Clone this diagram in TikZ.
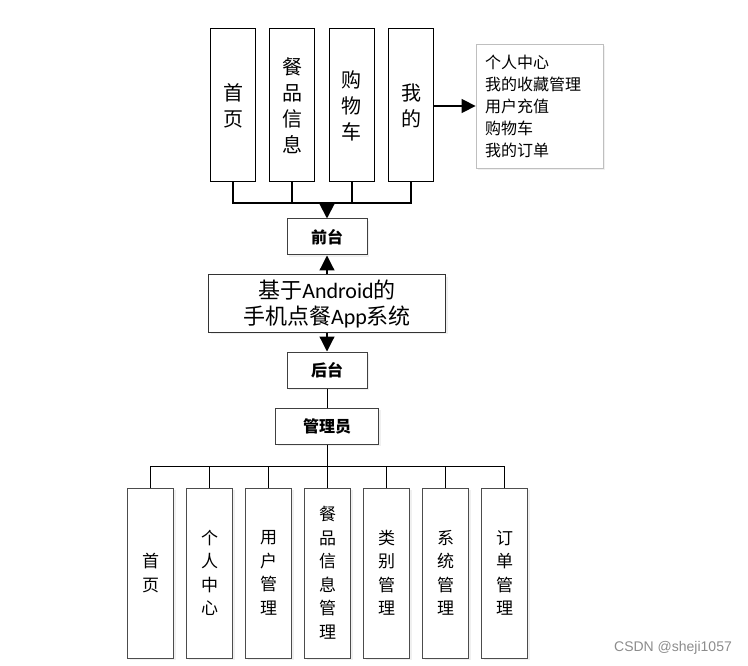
\documentclass[tikz,border=0pt]{standalone}
\usepackage{fontspec}
\setmainfont{Noto Sans CJK SC}
\newfontfamily\latinfont{Carlito}
\newfontfamily\markfont{Liberation Sans}
\usetikzlibrary{arrows.meta,shadows}

\tikzset{
  softshadow/.style={drop shadow={opacity=0.12, shadow xshift=2pt, shadow yshift=-2pt}},
  topbox/.style={draw, line width=1pt, minimum width=45pt, minimum height=153pt,
    inner sep=0pt, align=center, font=\fontsize{20}{26}\selectfont},
  midbox/.style={draw=black!75, line width=1pt, fill=white, softshadow, inner sep=0pt,
    align=center, font=\fontsize{16}{20}\selectfont\bfseries},
  subbox/.style={draw=black!70, line width=1pt, fill=white, softshadow, minimum width=46pt,
    minimum height=170pt, inner sep=0pt, align=center, font=\fontsize{17}{23.5}\selectfont},
  listbox/.style={draw=black!25, line width=0.8pt, fill=white, softshadow, minimum width=127pt,
    minimum height=124pt, text width=109pt, inner xsep=9pt, align=left,
    font=\fontsize{16}{22}\selectfont},
  bigarrow/.style={-{Triangle[width=15pt,length=15pt]}},
  busline/.style={line width=2pt},
}

\begin{document}
\begin{tikzpicture}[x=1pt, y=-1pt]
  \useasboundingbox (0,0) rectangle (748,666);

  % front end modules
  \node[topbox] (home) at (233,105.5) {首\\页};
  \node[topbox] (food) at (292,105.5) {餐\\品\\信\\息};
  \node[topbox] (cart) at (351.5,105.5) {购\\物\\车};
  \node[topbox] (mine) at (411,105.5) {我\\的};
  \node[listbox] (minelist) at (539.5,106) {个人中心\\我的收藏管理\\用户充值\\购物车\\我的订单};

  \node[midbox, minimum width=80pt, minimum height=36pt] (front) at (327,237) {前台};
  \node[draw=black!80, line width=1pt, fill=white, softshadow, minimum width=237pt, minimum height=57pt,
    inner sep=0pt, align=center, font=\fontsize{22}{26}\selectfont] (app) at (327,303.5)
    {基于{\latinfont Android}的\\手机点餐{\latinfont App}系统};
  \node[midbox, minimum width=80pt, minimum height=36pt] (back) at (327,370) {后台};
  \node[midbox, minimum width=103pt, minimum height=36pt] (admin) at (327,426) {管理员};

  % back end modules
  \foreach \txt [count=\i from 0] in {{首\\页},{个\\人\\中\\心},{用\\户\\管\\理},
      {餐\\品\\信\\息\\管\\理},{类\\别\\管\\理},{系\\统\\管\\理},{订\\单\\管\\理}}
    \node[subbox] (sub\i) at ({150.5+59*\i},573) {\txt};

  \coordinate (topbus) at (327,203);
  \coordinate (lowbus) at (327,466);

  \draw[busline] (home.south) |- (topbus);
  \draw[busline] (mine.south) |- (topbus);
  \draw[busline] (food.south) -- (food.south |- topbus);
  \draw[busline] (cart.south) -- (cart.south |- topbus);
  \draw[busline, bigarrow] (topbus) -- (front.north);
  \draw[line width=1.5pt, -{Triangle[width=14pt,length=14pt]}] (mine.east |- minelist.west) -- (minelist.west);

  \draw[line width=1.2pt, bigarrow] (app.north) -- (front.south);
  \draw[line width=1.2pt, bigarrow] (app.south) -- (back.north);
  \draw[line width=1pt] (back.south) -- (admin.north);
  \draw[line width=1pt] (admin.south) -- (lowbus);
  \foreach \i in {0,...,6}
    \draw[line width=1pt] (sub\i.north) |- (lowbus);

  \node[text=black!45, font=\markfont\fontsize{14}{16}\selectfont] (mark) at (673,648) {CSDN @sheji1057};
\end{tikzpicture}
\end{document}
